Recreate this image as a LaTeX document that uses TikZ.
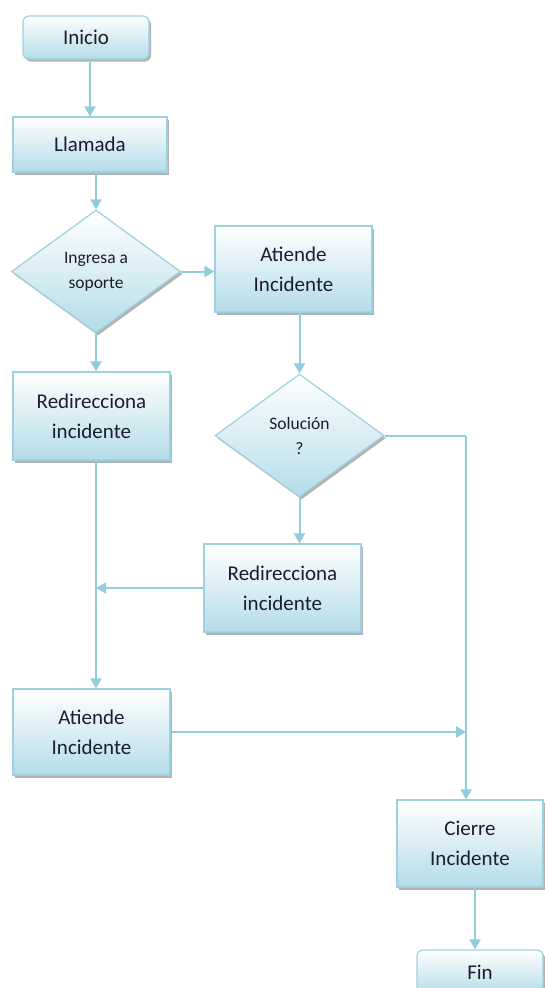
\documentclass[tikz,border=0pt]{standalone}
\usepackage{fontspec}
\setmainfont{Carlito}
\usetikzlibrary{shapes.geometric,arrows.meta,shadows}
\definecolor{borde}{RGB}{158,209,223}
\definecolor{linea}{RGB}{146,205,220}
\definecolor{relleno}{RGB}{180,220,232}
\definecolor{texto}{RGB}{30,28,45}

\begin{document}
\begin{tikzpicture}[
		x=1pt, y=-1pt,   % pixel coordinates, y downwards
		caja/.style={draw=borde, line width=1.2pt, top color=white, bottom color=relleno,
			text=texto, align=center, inner sep=0pt,
			minimum width=157pt, minimum height=87pt,
			font=\fontsize{21}{30}\selectfont,
			drop shadow={shadow xshift=2pt, shadow yshift=-2.5pt, fill=black!60, opacity=0.5}},
		terminal/.style={caja, rounded corners=6pt, minimum width=126pt, minimum height=43pt},
		decision/.style={caja, shape=diamond, minimum width=169pt, minimum height=123pt,
			font=\fontsize{17.5}{25}\selectfont},
		flecha/.style={draw=linea, line width=2pt, -{Triangle[length=10pt,width=11pt]}},
		linea/.style={draw=linea, line width=2pt}
		]
		
		\useasboundingbox (0,0) rectangle (545,988);
		\clip (0,0) rectangle (545,988);
		
		\node[terminal] (inicio) at (86,37.5) {Inicio};
		\node[caja, minimum width=154pt, minimum height=55pt] (llamada) at (90,144.5) {Llamada};
		\node[decision] (ingresa) at (96,271.5) {Ingresa a\\soporte};
		\node[caja, minimum height=86pt] (atiende1) at (293.5,269) {Atiende\\Incidente};
		\node[caja, minimum height=88pt] (redir1) at (91.5,416) {Redirecciona\\incidente};
		\node[decision] (solucion) at (299.5,435.5) {Solución\\?};
		\node[caja, minimum height=88pt] (redir2) at (282.5,588) {Redirecciona\\incidente};
		\node[caja, minimum height=86pt] (atiende2) at (91.5,732) {Atiende\\Incidente};
		\node[caja, minimum width=146pt] (cierre) at (470,843.5) {Cierre\\Incidente};
		\node[terminal, minimum height=44pt] (fin) at (480,972) {Fin};
		
		\draw[flecha] (llamada.north |- inicio.south) -- (llamada.north);
		\draw[flecha] (ingresa.north |- llamada.south) -- (ingresa.north);
		\draw[flecha] (ingresa.east) -- (ingresa.east -| atiende1.west);
		\draw[flecha] (ingresa.south) -- (ingresa.south |- redir1.north);
		\draw[flecha] (solucion.north |- atiende1.south) -- (solucion.north);
		\draw[flecha] (solucion.south) -- (solucion.south |- redir2.north);
		\draw[linea] (solucion.east) -- ++(81.5,0) coordinate (giro);
		\draw[flecha] (giro) -- (giro |- cierre.north);
		\draw[flecha] (redir2.west) -- (redir2.west -| ingresa.south);
		\draw[flecha] (ingresa.south |- redir1.south) -- (ingresa.south |- atiende2.north);
		\draw[flecha] (atiende2.east) -- (atiende2.east -| giro);
		\draw[flecha] ([xshift=-5pt]fin.north |- cierre.south) -- ([xshift=-5pt]fin.north);
		
	\end{tikzpicture}
\end{document}
